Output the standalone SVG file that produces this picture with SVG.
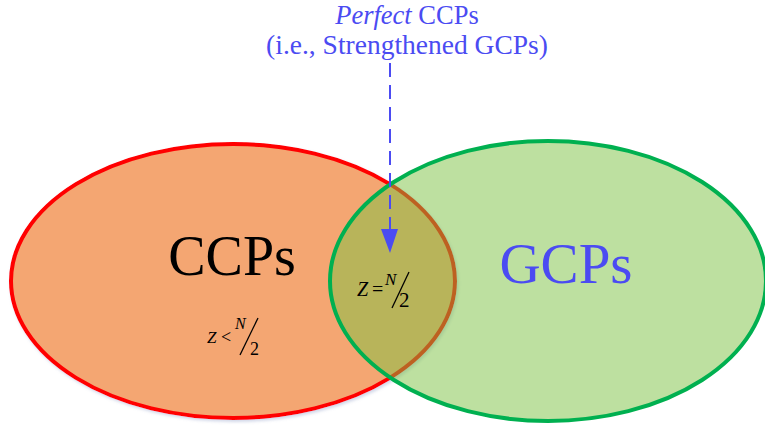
<svg xmlns="http://www.w3.org/2000/svg" width="765" height="436" viewBox="0 0 765 436">
<style>
.tm{font-family:"Liberation Serif","Times New Roman",serif}
.blue{fill:#4b4bf2}
.f{font-family:"Liberation Serif","Times New Roman",serif;font-style:italic;fill:#000}
.s{font-family:"Liberation Serif","Times New Roman",serif;fill:#000}
</style>
<defs>
<filter id="sh" x="-10%" y="-10%" width="120%" height="120%">
<feDropShadow dx="1.5" dy="2" stdDeviation="1.5" flood-color="#8090c0" flood-opacity="0.35"/>
</filter>
</defs>
<rect width="765" height="436" fill="#fff"/>
<g id="ccp">
<ellipse cx="233" cy="281" rx="222" ry="137" fill="#f4a672" stroke="#ff0000" stroke-width="4" filter="url(#sh)"/>
<text class="tm" x="232" y="275" font-size="56" text-anchor="middle">CCPs</text>
<g>
<text class="f" x="207" y="343" font-size="17">Z</text>
<text class="s" x="221" y="343" font-size="18">&lt;</text>
<text class="f" x="235" y="329" font-size="16">N</text>
<line x1="240" y1="355" x2="258" y2="318" stroke="#000" stroke-width="1.3"/>
<text class="s" x="250" y="355" font-size="18">2</text>
</g>
</g>
<g id="gcp">
<ellipse cx="548" cy="281" rx="218" ry="140" fill="rgb(123,193,65)" fill-opacity="0.5" stroke="#00b050" stroke-width="4"/>
<text class="tm blue" x="566" y="283" font-size="57" text-anchor="middle">GCPs</text>
</g>
<g id="intersection">
<text class="f" x="357" y="296" font-size="20">Z</text>
<text class="s" x="372" y="296" font-size="20">=</text>
<text class="f" x="385" y="285" font-size="17">N</text>
<line x1="392" y1="308" x2="409" y2="272" stroke="#000" stroke-width="1.3"/>
<text class="s" x="399" y="307" font-size="21">2</text>
</g>
<g id="label">
<text class="tm blue" x="407" y="24" font-size="26.5" text-anchor="middle"><tspan font-style="italic">Perfect</tspan> CCPs</text>
<text class="tm blue" x="407" y="54" font-size="27.5" text-anchor="middle">(i.e., Strengthened GCPs)</text>
</g>
<g id="connectors">
<line x1="390" y1="63" x2="390" y2="231" stroke="#4b4bf2" stroke-width="2" stroke-dasharray="14,8"/>
<polygon points="381,229 398,229 390,253" fill="#4b4bf2"/>
</g>
</svg>
